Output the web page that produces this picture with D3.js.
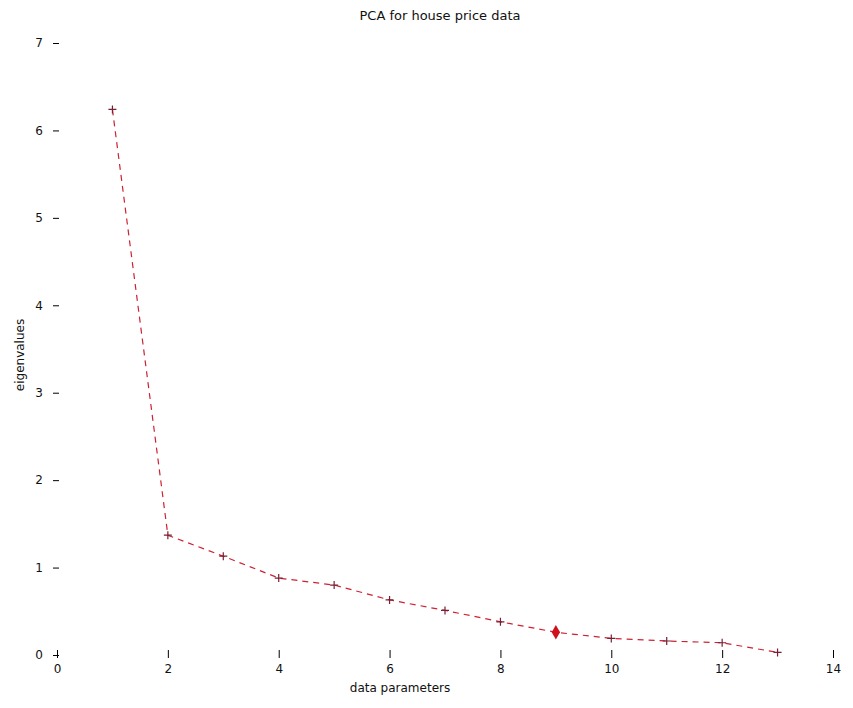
<!DOCTYPE html>
<html>
<head>
<meta charset="utf-8">
<script src="https://cdn.jsdelivr.net/npm/d3@7"></script>
<style>
  body { margin: 0; background: #fff; }
  text { font-family: "DejaVu Sans", sans-serif; fill: #111; }
</style>
</head>
<body>
<svg id="myGraph" width="853" height="708"></svg>
<script>
// component number and eigenvalue
var components = [1, 2, 3, 4, 5, 6, 7, 8, 9, 10, 11, 12, 13]
var eigenvalues = [6.24, 1.37, 1.13, 0.88, 0.80, 0.63, 0.51, 0.38, 0.26, 0.19, 0.16, 0.14, 0.03]
var xTicks = [0, 2, 4, 6, 8, 10, 12, 14]
var yTicks = [0, 1, 2, 3, 4, 5, 6, 7]
var chosen = 9 // highlighted point

var svg = d3.select("#myGraph")

var xScale = d3.scaleLinear().domain([0, 14]).range([57, 833])
var yScale = d3.scaleLinear().domain([0, 7]).range([655, 43])

// x axis: ticks only, no line
var xAxis = d3.axisBottom(xScale).tickValues(xTicks).tickFormat(d3.format("d")).tickSize(8).tickPadding(6)
svg.append("g")
  .attr("transform", "translate(0,650)")
  .call(xAxis)
  .call(function(g){ g.select(".domain").remove() })
  .selectAll("text").style("font-size", "12px")

// y axis: ticks only
var yAxis = d3.axisRight(yScale).tickValues(yTicks).tickFormat(d3.format("d")).tickSize(6).tickPadding(0)
var yg = svg.append("g")
  .attr("transform", "translate(53,0)")
  .call(yAxis)
yg.select(".domain").remove()
yg.selectAll("text")
  .attr("x", -10)
  .attr("text-anchor", "end")
  .style("font-size", "12px")

// line
var line = d3.line()
  .x(function(d, i){ return xScale(components[i]) })
  .y(function(d){ return yScale(d) })

svg.append("path")
  .datum(eigenvalues)
  .attr("d", line)
  .attr("fill", "none")
  .attr("stroke", "#cc2233")
  .attr("stroke-width", 1.2)
  .attr("stroke-dasharray", "6,5")

// + markers
svg.selectAll(".pt")
  .data(eigenvalues)
  .enter()
  .append("path")
  .attr("class", "pt")
  .attr("transform", function(d, i){ return "translate(" + xScale(components[i]) + "," + yScale(d) + ")" })
  .attr("d", "M-4,0H4M0,-4V4")
  .attr("fill", "none")
  .attr("stroke", "#7a1f33")
  .attr("stroke-width", 1.2)

// highlighted point
var ci = components.indexOf(chosen)
svg.append("path")
  .attr("transform", "translate(" + xScale(chosen) + "," + yScale(eigenvalues[ci]) + ")")
  .attr("d", d3.symbol().type(d3.symbolDiamond).size(60))
  .attr("fill", "#d0101c")

// titles
svg.append("text")
  .attr("x", 440).attr("y", 20)
  .attr("text-anchor", "middle")
  .style("font-size", "13px")
  .text("PCA for house price data")

svg.append("text")
  .attr("x", 400).attr("y", 692)
  .attr("text-anchor", "middle")
  .style("font-size", "12px")
  .text("data parameters")

svg.append("text")
  .attr("transform", "translate(24,355) rotate(-90)")
  .attr("text-anchor", "middle")
  .style("font-size", "12px")
  .text("eigenvalues")
</script>
</body>
</html>
